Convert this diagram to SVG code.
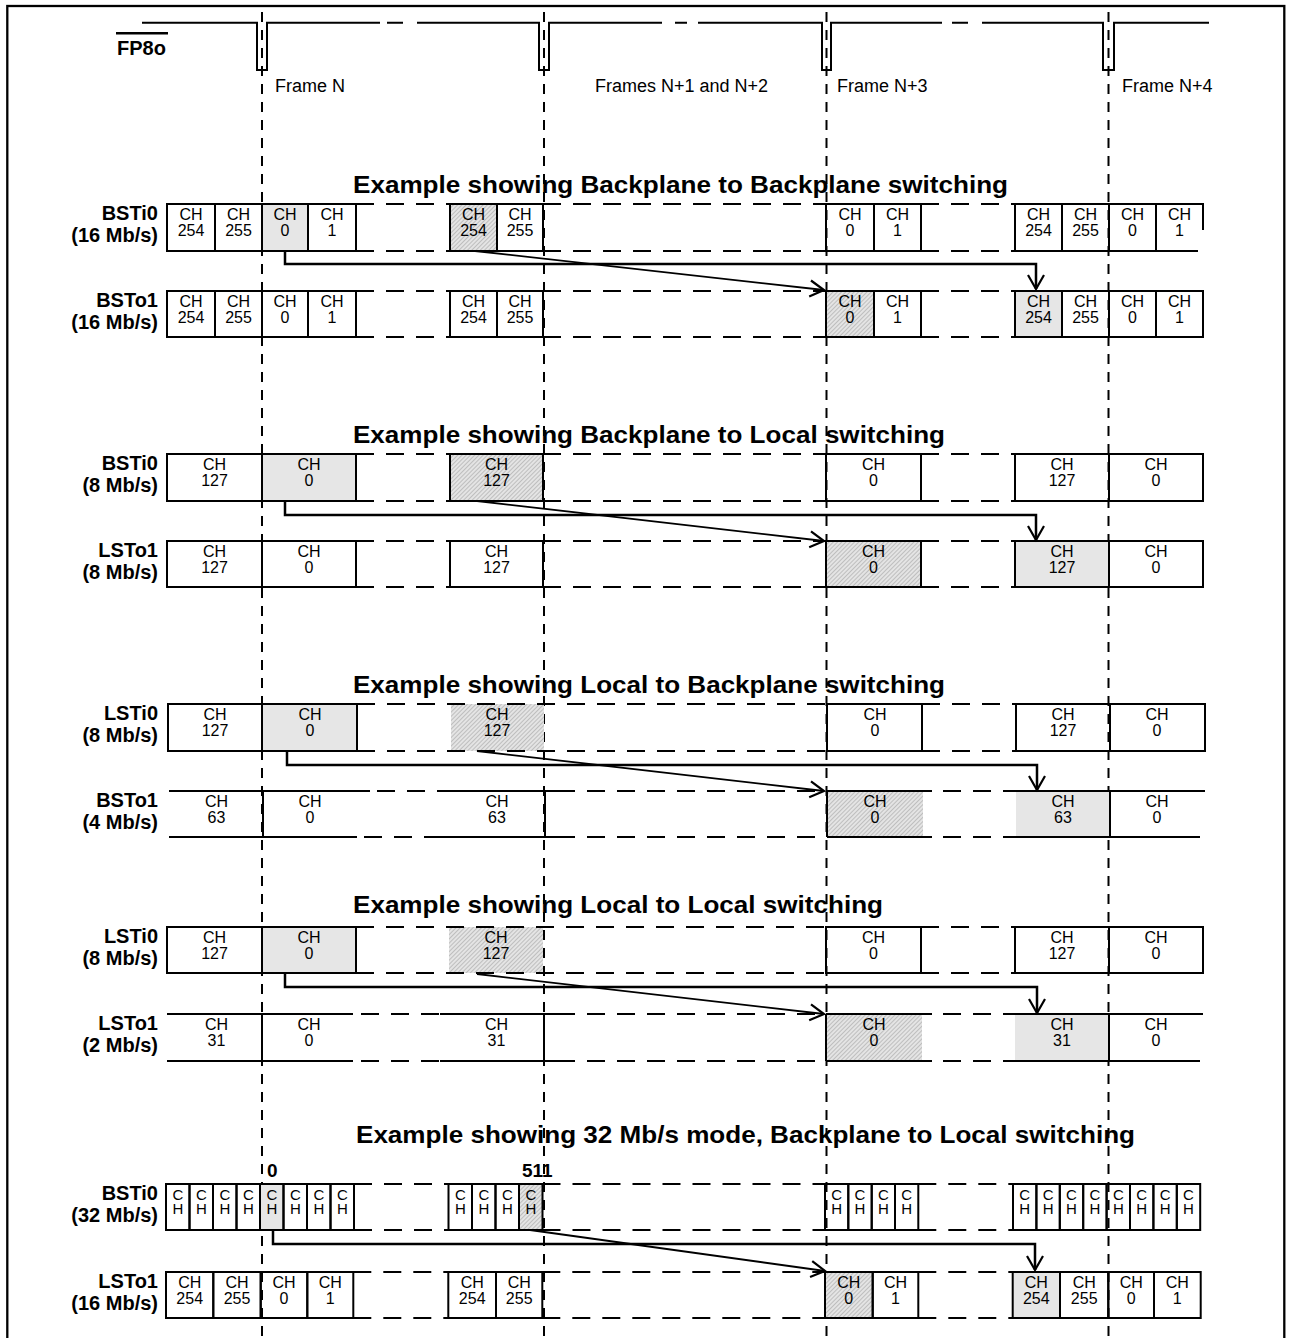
<svg xmlns="http://www.w3.org/2000/svg" width="1289" height="1338" viewBox="0 0 1289 1338">
<style>
.ln{stroke:#000;stroke-width:2;fill:none}
.c{fill:none;stroke:#000;stroke-width:2}
.g{fill:#e6e6e6;stroke:#000;stroke-width:2}
.h{fill:url(#hatch);stroke:#000;stroke-width:2}
.hn{fill:url(#hatch);stroke:none}
.gn{fill:#e6e6e6;stroke:none}
.dl{stroke:#000;stroke-width:2;stroke-dasharray:18 12;fill:none}
.fv{stroke:#000;stroke-width:2;stroke-dasharray:10 8;fill:none}
.arr{stroke:#000;stroke-width:2.5;fill:none}
.dg{stroke:#000;stroke-width:1.8;fill:none}
text{font-family:"Liberation Sans",Arial,Helvetica,sans-serif;fill:#000}
.t{font-size:16px;text-anchor:middle}
.t2{font-size:15px;text-anchor:middle}
.lb{font-size:20px;font-weight:bold;text-anchor:end}
.ti{font-size:24px;font-weight:bold}
.fr{font-size:18px}
</style>
<defs>
<pattern id="hatch" width="3" height="3" patternUnits="userSpaceOnUse" patternTransform="rotate(45)">
<rect width="3" height="3" fill="#e4e4e4"/>
<line x1="0" y1="0" x2="0" y2="3" stroke="#999" stroke-width="1"/>
</pattern>
<marker id="ah" markerUnits="userSpaceOnUse" markerWidth="20" markerHeight="16" viewBox="0 0 20 16" refX="14" refY="8" orient="auto" overflow="visible">
<path d="M0,0 L14,8 L0,16" fill="none" stroke="#000" stroke-width="2.2"/>
</marker>
</defs>
<rect x="0" y="0" width="1289" height="1338" fill="#fff"/>
<rect x="7.3" y="6" width="1277" height="1345" fill="none" stroke="#000" stroke-width="2.3"/>

<g id="frame-lines">
<line class="fv" x1="262" y1="12" x2="262" y2="1338"/>
<line class="fv" x1="544" y1="12" x2="544" y2="1338"/>
<line class="fv" x1="826.5" y1="12" x2="826.5" y2="1338"/>
<line class="fv" x1="1108.5" y1="12" x2="1108.5" y2="1338"/>
</g>

<g id="fp8o">
<line x1="116" y1="33.3" x2="168" y2="33.3" stroke="#000" stroke-width="2.5"/>
<text x="117" y="55" style="font-size:20px;font-weight:bold">FP8o</text>
<path class="ln" d="M142,22.7 H257 V70 H267 V22.7 H380 M387,22.7 H403 M417,22.7 H539 V70 H549 V22.7 H662 M675,22.7 H687 M698,22.7 H822 V70 H831 V22.7 H942 M952,22.7 H968 M982,22.7 H1103 V70 H1114 V22.7 H1209"/>
<text class="fr" x="275" y="92">Frame N</text>
<text class="fr" x="595" y="92">Frames N+1 and N+2</text>
<text class="fr" x="837" y="92">Frame N+3</text>
<text class="fr" x="1122" y="92">Frame N+4</text>
</g>

<g id="titles">
<text class="ti" x="353" y="193" textLength="655" lengthAdjust="spacingAndGlyphs">Example showing Backplane to Backplane switching</text>
<text class="ti" x="353" y="443" textLength="592" lengthAdjust="spacingAndGlyphs">Example showing Backplane to Local switching</text>
<text class="ti" x="353" y="693" textLength="592" lengthAdjust="spacingAndGlyphs">Example showing Local to Backplane switching</text>
<text class="ti" x="353" y="913" textLength="530" lengthAdjust="spacingAndGlyphs">Example showing Local to Local switching</text>
<text class="ti" x="356" y="1143" textLength="779" lengthAdjust="spacingAndGlyphs">Example showing 32 Mb/s mode, Backplane to Local switching</text>
</g>

<g id="labels">
<text class="lb" x="158" y="220">BSTi0</text><text class="lb" x="158" y="242">(16 Mb/s)</text>
<text class="lb" x="158" y="307">BSTo1</text><text class="lb" x="158" y="329">(16 Mb/s)</text>
<text class="lb" x="158" y="470">BSTi0</text><text class="lb" x="158" y="492">(8 Mb/s)</text>
<text class="lb" x="158" y="557">LSTo1</text><text class="lb" x="158" y="579">(8 Mb/s)</text>
<text class="lb" x="158" y="720">LSTi0</text><text class="lb" x="158" y="742">(8 Mb/s)</text>
<text class="lb" x="158" y="807">BSTo1</text><text class="lb" x="158" y="829">(4 Mb/s)</text>
<text class="lb" x="158" y="943">LSTi0</text><text class="lb" x="158" y="965">(8 Mb/s)</text>
<text class="lb" x="158" y="1030">LSTo1</text><text class="lb" x="158" y="1052">(2 Mb/s)</text>
<text class="lb" x="158" y="1200">BSTi0</text><text class="lb" x="158" y="1222">(32 Mb/s)</text>
<text class="lb" x="158" y="1288">LSTo1</text><text class="lb" x="158" y="1310">(16 Mb/s)</text>
<text x="267" y="1177" style="font-size:19px;font-weight:bold">0</text>
<text x="522" y="1177" style="font-size:19px;font-weight:bold">511</text>
</g>

<!-- Example 1 -->
<g id="ex1-bsti0">
<rect class="c" x="167" y="204" width="48" height="47"/>
<rect class="c" x="215" y="204" width="47" height="47"/>
<rect class="g" x="262" y="204" width="46" height="47"/>
<rect class="c" x="308" y="204" width="48" height="47"/>
<line class="dl" x1="356" y1="204" x2="450" y2="204"/><line class="dl" x1="356" y1="251" x2="450" y2="251"/>
<rect class="h" x="450" y="204" width="47" height="47"/>
<rect class="c" x="497" y="204" width="46" height="47"/>
<line class="dl" x1="543" y1="204" x2="826" y2="204"/><line class="dl" x1="543" y1="251" x2="826" y2="251"/>
<rect class="c" x="826" y="204" width="48" height="47"/>
<rect class="c" x="874" y="204" width="47" height="47"/>
<line class="dl" x1="921" y1="204" x2="1015" y2="204"/><line class="dl" x1="921" y1="251" x2="1015" y2="251"/>
<rect class="c" x="1015" y="204" width="47" height="47"/>
<rect class="c" x="1062" y="204" width="47" height="47"/>
<rect class="c" x="1109" y="204" width="47" height="47"/>
<path class="ln" d="M1156,204 H1203 V230 M1156,251 H1198"/>
<text class="t" x="191" y="220">CH<tspan x="191" dy="15.5">254</tspan></text>
<text class="t" x="238.5" y="220">CH<tspan x="238.5" dy="15.5">255</tspan></text>
<text class="t" x="285" y="220">CH<tspan x="285" dy="15.5">0</tspan></text>
<text class="t" x="332" y="220">CH<tspan x="332" dy="15.5">1</tspan></text>
<text class="t" x="473.5" y="220">CH<tspan x="473.5" dy="15.5">254</tspan></text>
<text class="t" x="520" y="220">CH<tspan x="520" dy="15.5">255</tspan></text>
<text class="t" x="850" y="220">CH<tspan x="850" dy="15.5">0</tspan></text>
<text class="t" x="897.5" y="220">CH<tspan x="897.5" dy="15.5">1</tspan></text>
<text class="t" x="1038.5" y="220">CH<tspan x="1038.5" dy="15.5">254</tspan></text>
<text class="t" x="1085.5" y="220">CH<tspan x="1085.5" dy="15.5">255</tspan></text>
<text class="t" x="1132.5" y="220">CH<tspan x="1132.5" dy="15.5">0</tspan></text>
<text class="t" x="1179.5" y="220">CH<tspan x="1179.5" dy="15.5">1</tspan></text>
</g>
<g id="ex1-bsto1">
<rect class="c" x="167" y="291" width="48" height="46"/>
<rect class="c" x="215" y="291" width="47" height="46"/>
<rect class="c" x="262" y="291" width="46" height="46"/>
<rect class="c" x="308" y="291" width="48" height="46"/>
<line class="dl" x1="356" y1="291" x2="450" y2="291"/><line class="dl" x1="356" y1="337" x2="450" y2="337"/>
<rect class="c" x="450" y="291" width="47" height="46"/>
<rect class="c" x="497" y="291" width="46" height="46"/>
<line class="dl" x1="543" y1="291" x2="826" y2="291"/><line class="dl" x1="543" y1="337" x2="826" y2="337"/>
<rect class="h" x="826" y="291" width="48" height="46"/>
<rect class="c" x="874" y="291" width="47" height="46"/>
<line class="dl" x1="921" y1="291" x2="1015" y2="291"/><line class="dl" x1="921" y1="337" x2="1015" y2="337"/>
<rect class="g" x="1015" y="291" width="47" height="46"/>
<rect class="c" x="1062" y="291" width="47" height="46"/>
<rect class="c" x="1109" y="291" width="47" height="46"/>
<rect class="c" x="1156" y="291" width="47" height="46"/>
<text class="t" x="191" y="307">CH<tspan x="191" dy="15.5">254</tspan></text>
<text class="t" x="238.5" y="307">CH<tspan x="238.5" dy="15.5">255</tspan></text>
<text class="t" x="285" y="307">CH<tspan x="285" dy="15.5">0</tspan></text>
<text class="t" x="332" y="307">CH<tspan x="332" dy="15.5">1</tspan></text>
<text class="t" x="473.5" y="307">CH<tspan x="473.5" dy="15.5">254</tspan></text>
<text class="t" x="520" y="307">CH<tspan x="520" dy="15.5">255</tspan></text>
<text class="t" x="850" y="307">CH<tspan x="850" dy="15.5">0</tspan></text>
<text class="t" x="897.5" y="307">CH<tspan x="897.5" dy="15.5">1</tspan></text>
<text class="t" x="1038.5" y="307">CH<tspan x="1038.5" dy="15.5">254</tspan></text>
<text class="t" x="1085.5" y="307">CH<tspan x="1085.5" dy="15.5">255</tspan></text>
<text class="t" x="1132.5" y="307">CH<tspan x="1132.5" dy="15.5">0</tspan></text>
<text class="t" x="1179.5" y="307">CH<tspan x="1179.5" dy="15.5">1</tspan></text>
</g>

<!-- Example 2 -->
<g id="ex2-bsti0">
<rect class="c" x="167" y="454" width="95" height="47"/>
<rect class="g" x="262" y="454" width="94" height="47"/>
<line class="dl" x1="356" y1="454" x2="450" y2="454"/><line class="dl" x1="356" y1="501" x2="450" y2="501"/>
<rect class="h" x="450" y="454" width="93" height="47"/>
<line class="dl" x1="543" y1="454" x2="826" y2="454"/><line class="dl" x1="543" y1="501" x2="826" y2="501"/>
<rect class="c" x="826" y="454" width="95" height="47"/>
<line class="dl" x1="921" y1="454" x2="1015" y2="454"/><line class="dl" x1="921" y1="501" x2="1015" y2="501"/>
<rect class="c" x="1015" y="454" width="94" height="47"/>
<rect class="c" x="1109" y="454" width="94" height="47"/>
<text class="t" x="214.5" y="470">CH<tspan x="214.5" dy="15.5">127</tspan></text>
<text class="t" x="309" y="470">CH<tspan x="309" dy="15.5">0</tspan></text>
<text class="t" x="496.5" y="470">CH<tspan x="496.5" dy="15.5">127</tspan></text>
<text class="t" x="873.5" y="470">CH<tspan x="873.5" dy="15.5">0</tspan></text>
<text class="t" x="1062" y="470">CH<tspan x="1062" dy="15.5">127</tspan></text>
<text class="t" x="1156" y="470">CH<tspan x="1156" dy="15.5">0</tspan></text>
</g>
<g id="ex2-lsto1">
<rect class="c" x="167" y="541" width="95" height="46"/>
<rect class="c" x="262" y="541" width="94" height="46"/>
<line class="dl" x1="356" y1="541" x2="450" y2="541"/><line class="dl" x1="356" y1="587" x2="450" y2="587"/>
<rect class="c" x="450" y="541" width="93" height="46"/>
<line class="dl" x1="543" y1="541" x2="826" y2="541"/><line class="dl" x1="543" y1="587" x2="826" y2="587"/>
<rect class="h" x="826" y="541" width="95" height="46"/>
<line class="dl" x1="921" y1="541" x2="1015" y2="541"/><line class="dl" x1="921" y1="587" x2="1015" y2="587"/>
<rect class="g" x="1015" y="541" width="94" height="46"/>
<rect class="c" x="1109" y="541" width="94" height="46"/>
<text class="t" x="214.5" y="557">CH<tspan x="214.5" dy="15.5">127</tspan></text>
<text class="t" x="309" y="557">CH<tspan x="309" dy="15.5">0</tspan></text>
<text class="t" x="496.5" y="557">CH<tspan x="496.5" dy="15.5">127</tspan></text>
<text class="t" x="873.5" y="557">CH<tspan x="873.5" dy="15.5">0</tspan></text>
<text class="t" x="1062" y="557">CH<tspan x="1062" dy="15.5">127</tspan></text>
<text class="t" x="1156" y="557">CH<tspan x="1156" dy="15.5">0</tspan></text>
</g>

<!-- Example 3 -->
<g id="ex3-lsti0">
<rect class="c" x="168" y="704" width="94" height="47"/>
<rect class="g" x="262" y="704" width="95" height="47"/>
<rect class="hn" x="451" y="704" width="93" height="47"/>
<line class="dl" x1="357" y1="704" x2="826" y2="704"/><line class="dl" x1="357" y1="751" x2="826" y2="751"/>
<rect class="c" x="827" y="704" width="95" height="47"/>
<line class="dl" x1="922" y1="704" x2="1016" y2="704"/><line class="dl" x1="922" y1="751" x2="1016" y2="751"/>
<rect class="c" x="1016" y="704" width="94" height="47"/>
<rect class="c" x="1110" y="704" width="95" height="47"/>
<text class="t" x="215" y="720">CH<tspan x="215" dy="15.5">127</tspan></text>
<text class="t" x="310" y="720">CH<tspan x="310" dy="15.5">0</tspan></text>
<text class="t" x="497" y="720">CH<tspan x="497" dy="15.5">127</tspan></text>
<text class="t" x="875" y="720">CH<tspan x="875" dy="15.5">0</tspan></text>
<text class="t" x="1063" y="720">CH<tspan x="1063" dy="15.5">127</tspan></text>
<text class="t" x="1157" y="720">CH<tspan x="1157" dy="15.5">0</tspan></text>
</g>
<g id="ex3-bsto1">
<rect class="hn" x="827" y="791" width="96" height="46"/>
<rect class="gn" x="1016" y="791" width="94" height="46"/>
<path class="ln" d="M169,791 H370 M442,791 H557 M169,837 H357 M442,837 H557 M263,791 V837 M545,791 V837 M827,791 H932 M1005,791 H1205 M827,837 H932 M1005,837 H1200 M827,791 V837 M1110,791 V837"/>
<line class="dl" x1="377" y1="791" x2="442" y2="791"/><line class="dl" x1="364" y1="837" x2="442" y2="837"/>
<line class="dl" x1="557" y1="791" x2="827" y2="791"/><line class="dl" x1="557" y1="837" x2="827" y2="837"/>
<line class="dl" x1="943" y1="791" x2="1005" y2="791"/><line class="dl" x1="943" y1="837" x2="1005" y2="837"/>
<text class="t" x="216.5" y="807">CH<tspan x="216.5" dy="15.5">63</tspan></text>
<text class="t" x="310" y="807">CH<tspan x="310" dy="15.5">0</tspan></text>
<text class="t" x="497" y="807">CH<tspan x="497" dy="15.5">63</tspan></text>
<text class="t" x="875" y="807">CH<tspan x="875" dy="15.5">0</tspan></text>
<text class="t" x="1063" y="807">CH<tspan x="1063" dy="15.5">63</tspan></text>
<text class="t" x="1157" y="807">CH<tspan x="1157" dy="15.5">0</tspan></text>
</g>

<!-- Example 4 -->
<g id="ex4-lsti0">
<rect class="c" x="167" y="927" width="95" height="46"/>
<rect class="g" x="262" y="927" width="94" height="46"/>
<rect class="hn" x="449" y="927" width="94" height="46"/>
<line class="dl" x1="356" y1="927" x2="826" y2="927"/><line class="dl" x1="356" y1="973" x2="826" y2="973"/>
<rect class="c" x="826" y="927" width="95" height="46"/>
<line class="dl" x1="921" y1="927" x2="1015" y2="927"/><line class="dl" x1="921" y1="973" x2="1015" y2="973"/>
<rect class="c" x="1015" y="927" width="94" height="46"/>
<rect class="c" x="1109" y="927" width="94" height="46"/>
<text class="t" x="214.5" y="943">CH<tspan x="214.5" dy="15.5">127</tspan></text>
<text class="t" x="309" y="943">CH<tspan x="309" dy="15.5">0</tspan></text>
<text class="t" x="496" y="943">CH<tspan x="496" dy="15.5">127</tspan></text>
<text class="t" x="873.5" y="943">CH<tspan x="873.5" dy="15.5">0</tspan></text>
<text class="t" x="1062" y="943">CH<tspan x="1062" dy="15.5">127</tspan></text>
<text class="t" x="1156" y="943">CH<tspan x="1156" dy="15.5">0</tspan></text>
</g>
<g id="ex4-lsto1">
<rect class="hn" x="826" y="1014" width="96" height="47"/>
<rect class="gn" x="1015" y="1014" width="94" height="47"/>
<path class="ln" d="M167,1014 H353 M440,1014 H557 M167,1061 H353 M440,1061 H557 M262,1014 V1061 M544,1014 V1061 M826,1014 H932 M1005,1014 H1203 M826,1061 H932 M1005,1061 H1200 M826,1014 V1061 M1109,1014 V1061"/>
<line class="dl" x1="361" y1="1014" x2="440" y2="1014"/><line class="dl" x1="361" y1="1061" x2="440" y2="1061"/>
<line class="dl" x1="557" y1="1014" x2="826" y2="1014"/><line class="dl" x1="557" y1="1061" x2="826" y2="1061"/>
<line class="dl" x1="943" y1="1014" x2="1005" y2="1014"/><line class="dl" x1="943" y1="1061" x2="1005" y2="1061"/>
<text class="t" x="216.5" y="1030">CH<tspan x="216.5" dy="15.5">31</tspan></text>
<text class="t" x="309" y="1030">CH<tspan x="309" dy="15.5">0</tspan></text>
<text class="t" x="496.5" y="1030">CH<tspan x="496.5" dy="15.5">31</tspan></text>
<text class="t" x="874" y="1030">CH<tspan x="874" dy="15.5">0</tspan></text>
<text class="t" x="1062" y="1030">CH<tspan x="1062" dy="15.5">31</tspan></text>
<text class="t" x="1156" y="1030">CH<tspan x="1156" dy="15.5">0</tspan></text>
</g>

<!-- Example 5 -->
<g id="ex5-bsti0">
<rect class="c" x="166" y="1184" width="23.5" height="46"/>
<rect class="c" x="189.5" y="1184" width="23.5" height="46"/>
<rect class="c" x="213" y="1184" width="23.5" height="46"/>
<rect class="c" x="236.5" y="1184" width="23.5" height="46"/>
<rect class="g" x="260" y="1184" width="23.5" height="46"/>
<rect class="c" x="283.5" y="1184" width="23.5" height="46"/>
<rect class="c" x="307" y="1184" width="23.5" height="46"/>
<rect class="c" x="330.5" y="1184" width="23.5" height="46"/>
<line class="dl" x1="354" y1="1184" x2="448.5" y2="1184"/><line class="dl" x1="354" y1="1230" x2="448.5" y2="1230"/>
<rect class="c" x="448.5" y="1184" width="23.5" height="46"/>
<rect class="c" x="472" y="1184" width="23.5" height="46"/>
<rect class="c" x="495.5" y="1184" width="23.5" height="46"/>
<rect class="h" x="519" y="1184" width="23.5" height="46"/>
<line class="dl" x1="542.5" y1="1184" x2="825" y2="1184"/><line class="dl" x1="542.5" y1="1230" x2="825" y2="1230"/>
<rect class="c" x="825" y="1184" width="23.3" height="46"/>
<rect class="c" x="848.3" y="1184" width="23.4" height="46"/>
<rect class="c" x="871.7" y="1184" width="23.3" height="46"/>
<rect class="c" x="895" y="1184" width="23.3" height="46"/>
<line class="dl" x1="918.3" y1="1184" x2="1013" y2="1184"/><line class="dl" x1="918.3" y1="1230" x2="1013" y2="1230"/>
<rect class="c" x="1013" y="1184" width="23.4" height="46"/>
<rect class="c" x="1036.4" y="1184" width="23.4" height="46"/>
<rect class="c" x="1059.8" y="1184" width="23.4" height="46"/>
<rect class="c" x="1083.2" y="1184" width="23.4" height="46"/>
<rect class="c" x="1106.6" y="1184" width="23.4" height="46"/>
<rect class="c" x="1130" y="1184" width="23.4" height="46"/>
<rect class="c" x="1153.4" y="1184" width="23.4" height="46"/>
<rect class="c" x="1176.8" y="1184" width="23.4" height="46"/>
<text class="t2" x="177.8" y="1200">C<tspan x="177.8" dy="14">H</tspan></text>
<text class="t2" x="201.3" y="1200">C<tspan x="201.3" dy="14">H</tspan></text>
<text class="t2" x="224.8" y="1200">C<tspan x="224.8" dy="14">H</tspan></text>
<text class="t2" x="248.3" y="1200">C<tspan x="248.3" dy="14">H</tspan></text>
<text class="t2" x="271.8" y="1200">C<tspan x="271.8" dy="14">H</tspan></text>
<text class="t2" x="295.3" y="1200">C<tspan x="295.3" dy="14">H</tspan></text>
<text class="t2" x="318.8" y="1200">C<tspan x="318.8" dy="14">H</tspan></text>
<text class="t2" x="342.3" y="1200">C<tspan x="342.3" dy="14">H</tspan></text>
<text class="t2" x="460.3" y="1200">C<tspan x="460.3" dy="14">H</tspan></text>
<text class="t2" x="483.8" y="1200">C<tspan x="483.8" dy="14">H</tspan></text>
<text class="t2" x="507.3" y="1200">C<tspan x="507.3" dy="14">H</tspan></text>
<text class="t2" x="530.8" y="1200">C<tspan x="530.8" dy="14">H</tspan></text>
<text class="t2" x="836.7" y="1200">C<tspan x="836.7" dy="14">H</tspan></text>
<text class="t2" x="860" y="1200">C<tspan x="860" dy="14">H</tspan></text>
<text class="t2" x="883.3" y="1200">C<tspan x="883.3" dy="14">H</tspan></text>
<text class="t2" x="906.7" y="1200">C<tspan x="906.7" dy="14">H</tspan></text>
<text class="t2" x="1024.7" y="1200">C<tspan x="1024.7" dy="14">H</tspan></text>
<text class="t2" x="1048.1" y="1200">C<tspan x="1048.1" dy="14">H</tspan></text>
<text class="t2" x="1071.5" y="1200">C<tspan x="1071.5" dy="14">H</tspan></text>
<text class="t2" x="1094.9" y="1200">C<tspan x="1094.9" dy="14">H</tspan></text>
<text class="t2" x="1118.3" y="1200">C<tspan x="1118.3" dy="14">H</tspan></text>
<text class="t2" x="1141.7" y="1200">C<tspan x="1141.7" dy="14">H</tspan></text>
<text class="t2" x="1165.1" y="1200">C<tspan x="1165.1" dy="14">H</tspan></text>
<text class="t2" x="1188.5" y="1200">C<tspan x="1188.5" dy="14">H</tspan></text>
</g>
<g id="ex5-lsto1">
<rect class="c" x="166" y="1272" width="47.3" height="46"/>
<rect class="c" x="213.3" y="1272" width="47.4" height="46"/>
<rect class="c" x="260.7" y="1272" width="46.6" height="46"/>
<rect class="c" x="307.3" y="1272" width="46" height="46"/>
<line class="dl" x1="353.3" y1="1272" x2="448.3" y2="1272"/><line class="dl" x1="353.3" y1="1318" x2="448.3" y2="1318"/>
<rect class="c" x="448.3" y="1272" width="47.7" height="46"/>
<rect class="c" x="496" y="1272" width="46.3" height="46"/>
<line class="dl" x1="542.3" y1="1272" x2="825" y2="1272"/><line class="dl" x1="542.3" y1="1318" x2="825" y2="1318"/>
<rect class="h" x="825" y="1272" width="47.7" height="46"/>
<rect class="c" x="872.7" y="1272" width="45.6" height="46"/>
<line class="dl" x1="918.3" y1="1272" x2="1012.7" y2="1272"/><line class="dl" x1="918.3" y1="1318" x2="1012.7" y2="1318"/>
<rect class="g" x="1012.7" y="1272" width="47.3" height="46"/>
<rect class="c" x="1060" y="1272" width="48.3" height="46"/>
<rect class="c" x="1108.3" y="1272" width="45.7" height="46"/>
<rect class="c" x="1154" y="1272" width="46.7" height="46"/>
<text class="t" x="189.7" y="1288">CH<tspan x="189.7" dy="15.5">254</tspan></text>
<text class="t" x="237" y="1288">CH<tspan x="237" dy="15.5">255</tspan></text>
<text class="t" x="284" y="1288">CH<tspan x="284" dy="15.5">0</tspan></text>
<text class="t" x="330.3" y="1288">CH<tspan x="330.3" dy="15.5">1</tspan></text>
<text class="t" x="472.2" y="1288">CH<tspan x="472.2" dy="15.5">254</tspan></text>
<text class="t" x="519.2" y="1288">CH<tspan x="519.2" dy="15.5">255</tspan></text>
<text class="t" x="848.8" y="1288">CH<tspan x="848.8" dy="15.5">0</tspan></text>
<text class="t" x="895.5" y="1288">CH<tspan x="895.5" dy="15.5">1</tspan></text>
<text class="t" x="1036.3" y="1288">CH<tspan x="1036.3" dy="15.5">254</tspan></text>
<text class="t" x="1084.2" y="1288">CH<tspan x="1084.2" dy="15.5">255</tspan></text>
<text class="t" x="1131.2" y="1288">CH<tspan x="1131.2" dy="15.5">0</tspan></text>
<text class="t" x="1177.3" y="1288">CH<tspan x="1177.3" dy="15.5">1</tspan></text>
</g>

<g id="connectors">
<path class="arr" d="M285,251 V264 H1036 V289" marker-end="url(#ah)"/>
<path class="dg" d="M475,251 L824,290" marker-end="url(#ah)"/>
<path class="arr" d="M285,501 V515 H1036 V540" marker-end="url(#ah)"/>
<path class="dg" d="M477,501 L824,541" marker-end="url(#ah)"/>
<path class="arr" d="M287,751 V765 H1037 V790" marker-end="url(#ah)"/>
<path class="dg" d="M477,751 L824,791" marker-end="url(#ah)"/>
<path class="arr" d="M285,973 V987 H1037 V1013" marker-end="url(#ah)"/>
<path class="dg" d="M477,974 L824,1014" marker-end="url(#ah)"/>
<path class="arr" d="M273,1230 V1244 H1035 V1270" marker-end="url(#ah)"/>
<path class="dg" d="M530,1230 L825,1271" marker-end="url(#ah)"/>
</g>
</svg>
